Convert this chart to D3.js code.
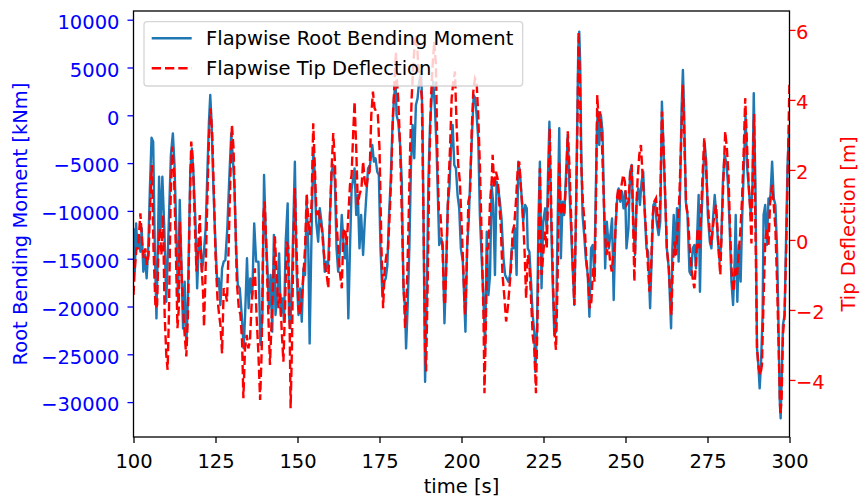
<!DOCTYPE html>
<html>
<head>
    <meta charset="utf-8">
    <title>Flapwise moment and deflection</title>
    <script src="https://d3js.org/d3.v7.min.js"></script>
    <style>
        body { margin: 0; background: #fff; }
        svg text { font-family: "DejaVu Sans", sans-serif; }
    </style>
</head>
<body>
<svg id="chart" width="860" height="501"></svg>
<script>
// [time s, root bending moment kNm]
const momentData = [
    [100.0,-11820],[100.4,-16360],[100.8,-11300],[101.2,-13920],[101.6,-12520],[102.1,-14270],[102.5,-11820],[103.0,-16360],[103.5,-14610],[104.0,-17060],
    [104.5,-13920],[105.0,-7640],[105.5,-2340],[106.0,-2760],[106.5,-13920],[107.0,-21240],[107.4,-13920],[107.8,-6420],[108.2,-12170],[108.8,-6420],
    [109.4,-11820],[110.0,-19500],[110.8,-10780],[111.4,-4150],[112.0,-1890],[112.5,-5200],[113.1,-12520],[113.6,-19500],[114.1,-8860],[114.6,-15310],
    [115.1,-22290],[115.6,-17400],[116.1,-24030],[116.6,-19150],[117.3,-5900],[117.8,-3460],[118.3,-6250],[118.9,-11130],[119.4,-18100],[119.9,-13570],
    [120.4,-13220],[120.9,-16360],[121.4,-14610],[122.0,-11820],[122.5,-6250],[123.0,-670],[123.4,2120],[123.8,-670],[124.3,-6940],[124.8,-11820],
    [125.5,-17400],[126.0,-17060],[126.5,-19850],[127.0,-16010],[127.5,-15310],[128.0,-15140],[128.6,-11820],[129.2,-6590],[129.8,-1890],[130.3,-4500],
    [130.8,-7640],[131.3,-13920],[131.8,-17750],[132.4,-18100],[133.0,-20890],[133.6,-24380],[134.1,-20190],[134.6,-14960],[135.1,-20190],[135.6,-17060],
    [136.2,-18800],[136.8,-11300],[137.4,-15310],[138.1,-15310],[138.7,-24030],[139.3,-20890],[139.8,-6250],
    [140.3,-12170],[140.8,-15660],[141.3,-20190],[141.8,-16710],[142.3,-22640],[142.8,-12520],[143.3,-20890],[143.9,-18450],[144.4,-14440],[144.9,-20890],
    [145.4,-19150],[145.9,-21590],[146.4,-13220],[147.0,-9210],[147.4,-20890],[147.8,-22290],[148.4,-16010],[149.2,-4850],[149.7,-16010],[150.3,-20890],
    [150.8,-18100],[151.3,-21590],[151.8,-16010],[152.3,-16710],[152.8,-9040],[153.3,-13920],[153.7,-23860],[154.2,-13920],[154.8,-3460],[155.2,-5900],
    [155.7,-11130],[156.3,-13220],[156.8,-9730],[157.3,-11130],[157.8,-12870],[158.3,-16360],[158.8,-15310],[159.3,-16010],[159.9,-10430],[160.4,-5900],
    [160.9,-5200],[161.4,-6940],[161.9,-13920],[162.4,-16360],[163.0,-13920],[163.5,-10430],[164.0,-13220],[164.5,-14960],[165.0,-12870],[165.5,-21240],
    [166.0,-13920],[166.5,-7640],[167.0,-6590],[167.4,-5550],[167.9,-10430],[168.4,-8340],[168.9,-13920],[169.4,-10430],[170.0,-14610],[170.5,-11130],
    [171.0,-8340],[171.5,-5550],[172.1,-5200],[172.8,-3110],[173.3,-4850],[173.8,-4500],[174.3,-5900],[174.8,-6250],[175.3,-13920],[175.9,-18970],
    [176.4,-17400],[176.9,-17060],[177.4,-15660],[177.9,-10430],[178.4,-6940],[178.9,-1710],[179.4,1770],[179.9,3520],
    [180.2,30],[180.7,-670],[181.3,-3110],[181.8,-6940],[182.3,-18100],[182.8,-20190],[183.1,-24380],[183.6,-19850],[184.1,-13920],[184.6,-5200],
    [185.1,-1020],[185.6,-4500],[186.1,1080],[186.6,1770],[187.1,3520],[187.7,4560],[188.1,30],[188.5,-13920],[188.9,-27870],[189.4,-19150],
    [189.9,-6940],[190.4,-1020],[190.9,1770],[191.4,3520],[191.9,730],[192.4,-3460],[192.9,-9730],[193.2,-13570],[193.8,-12870],[194.3,-13570],
    [194.8,-21760],[195.3,-16360],[195.8,-9380],[196.3,-7640],[196.8,-3460],[197.3,-1020],[197.8,-5200],[198.3,-5550],[198.8,-8340],[199.3,-9730],
    [199.8,-13920],[200.4,-15310],[200.9,-19850],[201.2,-22640],[201.7,-13920],[202.2,-11130],[202.7,-6250],[203.2,-2060],[203.7,2120],[204.2,1770],
    [204.6,30],[205.1,-2410],[205.6,-10430],[206.1,-14610],[206.7,-19150],[207.2,-24380],[207.7,-12170],[208.2,-18800],[208.7,-16710],[209.2,-7290],
    [209.7,-9380],[210.2,-16710],[210.7,-6940],[211.2,-7640],[211.7,-9040],[212.2,-10780],[212.8,-14960],[213.3,-16710],[213.8,-17060],[214.3,-17400],
    [214.8,-16710],[215.3,-13920],[215.8,-13920],[216.3,-11820],[216.8,-16710],[217.3,-4850],[217.8,-5900],[218.3,-8340],[218.8,-11130],[219.4,-9380],
    [219.9,-9730],
    [220.2,-13920],[220.7,-14270],[221.2,-17400],[221.7,-20890],[222.2,-22640],[222.5,-26820],[223.0,-22640],[223.5,-10430],[223.9,-4850],[224.4,-18100],
    [224.9,-11130],[225.5,-9730],[226.0,-12170],[226.4,-5900],[226.8,-670],[227.3,-10430],[227.8,-17400],[228.3,-22980],[228.8,-22640],[229.3,-11480],
    [229.8,-1360],[230.3,-14960],[230.8,-9040],[231.3,-10430],[231.9,-5900],[232.4,-2060],[232.9,-7640],[233.4,-11820],[233.9,-16010],[234.4,-19850],
    [234.9,-10430],[235.2,-2760],[235.6,7000],[235.9,8750],[236.2,5260],[236.5,-3460],[236.9,-10430],[237.4,-12520],[237.9,-14960],[238.5,-16710],
    [239.0,-21070],[239.5,-13920],[240.0,-13570],[240.5,-16710],[241.0,-6940],[241.3,-1020],[241.6,380],[242.0,-3110],[242.5,30],[243.0,-1710],
    [243.5,-10430],[243.8,-16010],[244.3,-11130],[244.9,-13920],[245.4,-12520],[245.9,-10780],[246.4,-19320],[246.9,-12170],[247.4,-9040],[247.9,-7640],
    [248.4,-9040],[248.9,-7990],[249.4,-9730],[249.9,-7990],[250.3,-13920],[250.9,-11820],[251.4,-5900],[251.9,-5200],[252.4,-11480],[252.9,-14610],
    [253.4,-9040],[253.9,-7640],[254.4,-9380],[254.9,-6940],[255.4,-5900],[255.9,-10430],[256.4,-13920],[256.9,-14270],[257.5,-20190],[258.0,-14610],
    [258.5,-9380],[259.0,-9040],[259.5,-11130],
    [260.1,-12520],[260.6,-11130],[261.1,1430],[261.6,-3460],[262.1,-8690],[262.6,-13920],[263.2,-16010],[263.7,-20540],[263.9,-22290],[264.3,-13920],
    [264.7,-10430],[265.2,-14610],[265.7,-9730],[266.2,-15310],[266.7,-6940],[267.1,730],[267.5,4740],[267.9,30],[268.4,-9040],[268.9,-10430],
    [269.5,-16360],[270.0,-16710],[270.5,-13920],[271.0,-13570],[271.5,-16010],[272.0,-11130],[272.3,-8340],[272.7,-18450],[273.1,-11480],[273.6,-6940],
    [274.1,-2760],[274.6,-4850],[275.1,-10430],[275.7,-13220],[276.2,-13920],[276.7,-10780],[277.2,-8340],[277.7,-10430],[278.2,-13220],[278.7,-15310],
    [279.2,-13220],[279.7,-6940],[280.2,-4150],[280.7,-4850],[281.2,-6940],[281.7,-11130],[282.3,-17400],[282.8,-19850],[283.3,-14960],[283.6,-10430],
    [284.1,-19500],[284.6,-13570],[285.1,-17400],[285.6,-10430],[286.1,-5200],[286.6,30],[287.1,-5550],[287.6,-7640],[288.2,-10430],[288.7,-7640],
    [289.1,2300],[289.6,-6940],[290.1,-24380],[290.5,-26120],[290.9,-28560],[291.3,-26120],[291.8,-20890],[292.1,-10430],[292.6,-9380],[293.1,-13570],
    [293.6,-8690],[294.1,-9040],[294.7,-4850],[295.2,-8690],[295.7,-9380],[296.2,-13920],[296.6,-20890],[297.0,-29610],[297.3,-31700],[297.6,-27870],
    [298.0,-21940],[298.5,-20890],[299.0,-12170],[299.4,-5200],[299.8,-2000],[300.0,-2400]
];

// [time s, tip deflection m]
const deflectionData = [
    [100.0,-1.57],[100.4,-0.81],[100.9,-0.24],[101.4,-0.24],[102.1,0.76],[102.6,-0.05],[103.1,-0.52],[103.6,-0.24],[104.1,-0.71],[104.6,-0.43],
    [105.1,1.10],[105.6,2.14],[106.1,-0.24],[106.7,-1.95],[107.2,-1.86],[107.6,-0.24],[108.0,0.33],[108.5,-0.43],[109.0,0.71],[109.5,-2.14],
    [110.0,-3.29],[110.4,-3.71],[110.8,-2.14],[111.3,1.10],[111.8,2.67],[112.3,2.05],[112.9,-0.24],[113.4,-2.52],[113.8,-1.95],[114.1,0.52],
    [114.6,-0.81],[115.1,-1.95],[115.6,-2.71],[116.1,-3.33],[116.6,-2.14],[117.1,0.71],[117.6,2.81],[118.1,2.24],[118.6,0.71],[119.2,-0.90],
    [119.7,-0.24],[120.2,0.71],[120.7,-0.71],[121.2,-1.48],[121.5,-2.48],[122.0,-0.81],[122.5,1.10],[123.0,2.91],[123.5,3.76],[124.0,3.00],
    [124.5,1.38],[125.0,-0.43],[125.6,-1.67],[126.1,-2.14],[126.5,-2.43],[127.0,-3.24],[127.5,-1.38],[128.0,-1.48],[128.5,-1.76],[129.0,-0.24],
    [129.5,1.67],[130.0,3.29],[130.5,2.62],[131.0,0.71],[131.5,-1.19],[132.1,-1.95],[132.6,-2.14],[133.1,-2.90],[133.5,-4.52],[134.0,-3.10],
    [134.5,-2.71],[135.0,-3.10],[135.5,-2.90],[136.0,-1.86],[136.5,-1.19],[137.0,-0.81],[137.5,-2.14],[138.1,-3.29],[138.6,-4.57],[139.1,-3.10],
    [139.6,0.71],
    [140.0,1.10],[140.3,0.33],[140.8,-1.19],[141.3,-2.71],[141.6,-3.57],[142.1,-2.33],[142.6,-1.19],[143.1,0.10],[143.7,-1.10],[144.2,-1.95],
    [144.7,-1.48],[145.2,-2.62],[145.7,-3.48],[146.2,-1.95],[146.7,-0.05],[147.2,-0.24],[147.6,-2.43],[147.9,-4.81],[148.3,-3.10],[148.7,-0.24],
    [149.2,1.48],[149.7,-0.24],[150.3,-1.95],[150.8,-2.14],[151.3,-1.67],[151.8,-1.00],[152.3,-0.24],[152.8,1.33],[153.3,0.52],[153.8,0.14],
    [154.3,1.10],[154.8,3.33],[155.3,2.05],[155.8,0.71],[156.4,0.90],[156.9,0.52],[157.4,0.33],[157.9,-0.24],[158.4,-0.71],[158.9,-1.00],
    [159.4,-1.38],[159.9,0.71],[160.4,2.05],[160.9,3.05],[161.4,2.24],[161.9,0.52],[162.4,-0.24],[163.0,-1.00],[163.5,-1.38],[164.0,0.24],
    [164.5,0.33],[165.0,-0.14],[165.5,0.71],[166.0,1.57],[166.5,1.86],[167.0,3.10],[167.4,3.95],[167.9,2.62],[168.4,1.00],[168.9,1.29],
    [169.5,1.48],[170.0,2.24],[170.5,1.67],[171.0,1.48],[171.5,1.86],[172.0,1.95],[172.5,3.57],[173.0,4.24],[173.5,3.76],[174.0,3.67],
    [174.5,3.57],[175.0,2.62],[175.6,-0.24],[176.1,-1.95],[176.6,-0.81],[177.1,-0.43],[177.6,-0.24],[178.1,0.71],[178.6,1.86],[179.1,3.57],
    [179.5,4.33],[180.0,5.38],
    [180.2,4.71],[180.7,4.05],[181.3,2.62],[181.8,0.71],[182.3,-1.19],[182.8,-2.52],[183.3,-1.57],[183.8,0.24],[184.3,2.43],[184.8,4.05],
    [185.3,5.00],[185.8,5.67],[186.3,5.86],[186.8,5.00],[187.3,4.71],[187.9,4.05],[188.4,0.71],[188.9,-3.10],[189.2,-3.76],[189.7,-1.19],
    [190.2,2.14],[190.7,4.05],[191.2,5.00],[191.7,5.67],[192.2,5.00],[192.7,2.14],[193.1,0.81],[193.6,0.71],[194.2,-0.24],[194.7,-1.76],
    [195.0,-1.86],[195.5,-0.24],[196.0,1.48],[196.5,2.62],[197.0,4.05],[197.5,4.52],[198.0,4.81],[198.5,3.29],[199.0,2.14],[199.5,1.67],
    [200.0,0.52],[200.5,-0.71],[201.1,-2.14],[201.6,-0.71],[202.1,1.10],[202.6,1.29],[203.1,3.10],[203.6,4.24],[204.1,4.62],[204.6,4.52],
    [205.1,3.57],[205.6,2.14],[206.1,0.24],[206.7,-2.14],[207.0,-4.38],[207.4,-2.62],[207.8,-0.24],[208.2,-0.24],[208.7,1.10],[209.2,1.67],
    [209.5,2.43],[210.0,1.48],[210.5,1.95],[211.0,1.76],[211.5,1.10],[212.0,0.33],[212.5,-1.00],[213.1,-1.67],[213.6,-2.33],[214.1,-1.95],
    [214.6,-1.38],[215.1,-0.81],[215.6,0.24],[216.1,0.43],[216.6,1.10],[217.1,1.95],[217.6,2.24],[218.1,1.48],[218.6,0.90],[219.2,-0.24],
    [219.7,-1.67],
    [220.2,-0.43],[220.7,-0.71],[221.2,-1.67],[221.7,-2.71],[222.2,-3.10],[222.7,-4.38],[223.2,-2.14],[223.5,-0.24],[223.9,2.05],[224.4,-1.00],
    [224.9,-0.43],[225.5,0.24],[226.0,-0.24],[226.5,1.67],[226.9,3.19],[227.4,0.71],[227.9,-1.19],[228.4,-2.71],[228.8,-3.14],[229.3,-1.19],
    [229.8,2.24],[230.3,0.71],[230.8,1.10],[231.3,0.71],[231.9,1.67],[232.4,3.10],[232.9,2.14],[233.4,0.71],[233.9,-0.71],[234.4,-1.86],
    [234.9,0.71],[235.4,3.57],[235.7,5.95],[236.1,4.52],[236.5,2.14],[237.0,1.10],[237.5,0.52],[238.1,-0.62],[238.6,-1.10],[239.1,-1.95],
    [239.6,-1.76],[240.1,-0.81],[240.6,-1.19],[241.0,1.19],[241.4,4.14],[241.8,3.38],[242.2,3.67],[242.7,3.10],[243.2,1.67],[243.7,0.24],
    [244.2,-0.43],[244.8,-0.05],[245.3,-0.62],[245.8,-0.90],[246.3,-0.43],[246.8,-0.05],[247.3,1.10],[247.8,1.48],[248.3,1.10],[248.8,1.57],
    [249.3,1.86],[249.8,1.67],[250.3,1.00],[250.9,1.10],[251.4,1.86],[251.9,2.14],[252.4,0.14],[252.7,-1.19],[253.2,0.71],[253.7,1.76],
    [254.2,2.43],[254.7,2.71],[255.2,1.86],[255.7,1.10],[256.2,0.33],[256.7,-0.52],[257.3,-1.48],[257.8,-0.81],[258.3,0.71],[258.8,1.10],
    [259.3,1.19],[259.9,0.52],
    [260.1,0.33],[260.6,1.10],[261.1,3.67],[261.6,2.62],[262.1,1.29],[262.6,-0.24],[263.2,-0.81],[263.7,-1.67],[264.0,-2.14],[264.4,-0.81],
    [264.9,-0.05],[265.4,-0.43],[265.9,0.33],[266.4,1.19],[266.9,2.62],[267.5,4.43],[268.0,2.62],[268.5,1.00],[269.0,0.71],[269.6,-0.24],
    [270.1,-0.81],[270.6,-1.19],[271.0,-1.38],[271.5,-0.62],[272.0,0.33],[272.5,-0.24],[273.0,0.71],[273.5,1.86],[274.0,2.90],[274.5,2.14],
    [275.0,1.19],[275.6,0.33],[276.1,-0.14],[276.6,0.33],[277.1,0.71],[277.6,1.00],[278.1,0.24],[278.6,-0.62],[278.9,-1.00],[279.4,0.52],
    [279.9,1.86],[280.4,3.10],[280.9,2.62],[281.4,1.86],[281.9,0.24],[282.5,-1.19],[283.0,-1.48],[283.5,-0.81],[284.0,-1.00],[284.5,-0.43],
    [285.0,0.24],[285.5,1.10],[286.0,2.43],[286.5,4.05],[287.0,2.81],[287.5,1.67],[288.0,0.90],[288.4,-0.10],[288.9,2.50],[289.2,3.60],
    [289.6,0.50],[290.1,-3.10],[290.6,-3.67],[291.1,-3.86],[291.6,-3.57],[292.1,-1.67],[292.6,-0.05],[293.1,0.33],[293.6,-0.14],[294.1,1.10],
    [294.7,1.57],[295.2,1.00],[295.7,0.33],[296.2,-1.19],[296.7,-3.10],[297.2,-5.00],[297.6,-4.52],[298.0,-2.71],[298.5,-2.14],[299.0,-0.24],
    [299.5,2.14],[299.9,4.05],[300.0,4.52]
];

const seriesNames = ["Flapwise Root Bending Moment", "Flapwise Tip Deflection"];
const xTicks = [100, 125, 150, 175, 200, 225, 250, 275, 300];
const momentTicks = [-30000, -25000, -20000, -15000, -10000, -5000, 0, 5000, 10000];
const deflectionTicks = [-4, -2, 0, 2, 4, 6];
const xDomain = [100, 300];
const momentDomain = [-33650, 10910];
const deflectionDomain = [-5.63, 6.54];

const svg = d3.select("svg#chart");
const plot = {left: 133.5, right: 789.5, top: 11, bottom: 437};
const fontSize = 19.5;
const blue = "#1f77b4";

// scales
const xScale = d3.scaleLinear().domain(xDomain).range([plot.left, plot.right]);
const momentScale = d3.scaleLinear().domain(momentDomain).range([plot.bottom, plot.top]);
const deflScale = d3.scaleLinear().domain(deflectionDomain).range([plot.bottom, plot.top]);

svg.append("rect").attr("width", 860).attr("height", 501).attr("fill", "#fff");

svg.append("defs").append("clipPath").attr("id", "plotClip")
    .append("rect")
    .attr("x", plot.left).attr("y", plot.top)
    .attr("width", plot.right - plot.left)
    .attr("height", plot.bottom - plot.top);

// the two series
const momentLine = d3.line().x(d => xScale(d[0])).y(d => momentScale(d[1]));
const deflLine = d3.line().x(d => xScale(d[0])).y(d => deflScale(d[1]));

const lines = svg.append("g").attr("clip-path", "url(#plotClip)");
lines.append("path")
    .datum(momentData)
    .attr("d", momentLine)
    .attr("fill", "none")
    .attr("stroke", blue)
    .attr("stroke-width", 2.4)
    .attr("stroke-linejoin", "round");
lines.append("path")
    .datum(deflectionData)
    .attr("d", deflLine)
    .attr("fill", "none")
    .attr("stroke", "#ff0000")
    .attr("stroke-width", 2.4)
    .attr("stroke-dasharray", "9.3,4");

// axes
function styleAxis(g, color) {
    g.select(".domain").remove();
    g.selectAll(".tick line").attr("stroke", color).attr("stroke-width", 1.3);
    g.selectAll(".tick text").attr("fill", color).attr("font-size", fontSize)
        .attr("font-family", "DejaVu Sans");
}

svg.append("g")
    .attr("transform", `translate(0,${plot.bottom})`)
    .call(d3.axisBottom(xScale).tickValues(xTicks).tickSize(6).tickPadding(11.2).tickFormat(d3.format("d")))
    .call(g => styleAxis(g, "#000"));

svg.append("g")
    .attr("transform", `translate(${plot.left},0)`)
    .call(d3.axisLeft(momentScale).tickValues(momentTicks).tickSize(6).tickPadding(8).tickFormat(d3.format("d")))
    .call(g => styleAxis(g, "#0000ff"))
    .call(g => g.selectAll(".tick text").attr("dy", "0.45em"));

svg.append("g")
    .attr("transform", `translate(${plot.right},0)`)
    .call(d3.axisRight(deflScale).tickValues(deflectionTicks).tickSize(6).tickPadding(0.5).tickFormat(d3.format("d")))
    .call(g => styleAxis(g, "#ff0000"))
    .call(g => g.selectAll(".tick text").attr("dy", "0.45em"));

// frame
svg.append("rect")
    .attr("x", plot.left).attr("y", plot.top)
    .attr("width", plot.right - plot.left)
    .attr("height", plot.bottom - plot.top)
    .attr("fill", "none")
    .attr("stroke", "#000")
    .attr("stroke-width", 1.3);

// axis titles
svg.append("text")
    .attr("x", (plot.left + plot.right) / 2).attr("y", 493)
    .attr("text-anchor", "middle")
    .attr("font-size", fontSize)
    .text("time [s]");

svg.append("text")
    .attr("transform", `translate(27,${(plot.top + plot.bottom) / 2}) rotate(-90)`)
    .attr("text-anchor", "middle")
    .attr("font-size", fontSize)
    .attr("fill", "#0000ff")
    .text("Root Bending Moment [kNm]");

svg.append("text")
    .attr("transform", `translate(855,${(plot.top + plot.bottom) / 2}) rotate(-90)`)
    .attr("text-anchor", "middle")
    .attr("font-size", fontSize)
    .attr("fill", "#ff0000")
    .text("Tip Deflection [m]");

// legend
const legend = svg.append("g");
const legendBox = legend.append("rect")
    .attr("x", 144).attr("y", 21.7)
    .attr("height", 64.3)
    .attr("rx", 3)
    .attr("fill", "#fff")
    .attr("fill-opacity", 0.8)
    .attr("stroke", "#cccccc")
    .attr("stroke-opacity", 0.8)
    .attr("stroke-width", 1.3);

const rows = [38.3, 68.3];
seriesNames.forEach((name, i) => {
    legend.append("line")
        .attr("x1", 151.7).attr("x2", 191.7)
        .attr("y1", rows[i]).attr("y2", rows[i])
        .attr("stroke", i === 0 ? blue : "#ff0000")
        .attr("stroke-width", 2.4)
        .attr("stroke-dasharray", i === 0 ? null : "9.3,4");
    legend.append("text")
        .attr("x", 206).attr("y", rows[i] + 6.9)
        .attr("font-size", fontSize)
        .attr("fill", "#000")
        .text(name);
});

// size legend box to the longest entry
const textEnd = d3.max(legend.selectAll("text").nodes(), n => n.getBBox().x + n.getBBox().width);
legendBox.attr("width", textEnd + 9 - 144);
</script>
</body>
</html>
